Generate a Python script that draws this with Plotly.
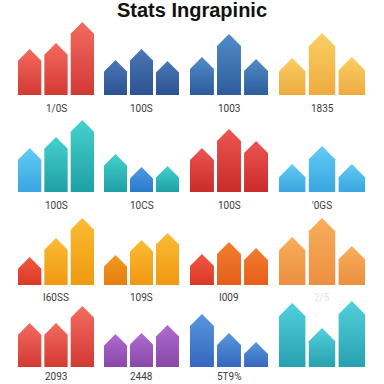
import plotly.graph_objects as go

# ---- data (bar heights, 4 rows x 4 groups x 3 bars) ----
row1_values = [[46, 52, 73], [35, 46, 34], [38, 61, 36], [37, 62, 38]]
row2_values = [[44, 55, 72], [38, 25, 26], [44, 63, 51], [28, 46, 28]]
row3_values = [[28, 47, 67], [30, 45, 52], [31, 43, 37], [48, 67, 39]]
row4_values = [[44, 44, 61], [33, 34, 42], [53, 34, 25], [64, 39, 66]]

row1_labels = ["1/0S", "100S", "1003", "1835"]
row2_labels = ["100S", "10CS", "100S", "'0GS"]
row3_labels = ["I60SS", "109S", "I009", "2/5"]
row4_labels = ["2093", "2448", "5T9%", ""]

title_text = "Stats Ingrapinic"

# ---- styles (top colour, bottom colour) ----
RED = ("#f36b5f", "#d33934")
NAVY = ("#4a77b5", "#2c5291")
BLUE = ("#528bc8", "#2d5b9b")
YEL = ("#f8cf62", "#efab40")
LBLUE = ("#62cbf3", "#3aa5df")
TEAL = ("#44d2cc", "#1f9fa5")
MBLUE = ("#4b9be3", "#2a7acb")
RED2 = ("#eb5551", "#ca2b2b")
ROR = ("#ef5842", "#db3824")
GOLD = ("#f9bc34", "#f09810")
ORG = ("#f19820", "#e67e10")
ORG2 = ("#f27d30", "#e65e18")
PEACH = ("#f7ae5a", "#ec8f40")
PURP = ("#af6bd1", "#8947a7")
SBLUE = ("#5697db", "#3666bf")
CYAN = ("#52d0dc", "#27a0b0")

colors = [
    [[RED] * 3, [NAVY] * 3, [BLUE] * 3, [YEL] * 3],
    [[LBLUE, TEAL, TEAL], [TEAL, MBLUE, TEAL], [RED2] * 3, [LBLUE] * 3],
    [[ROR, GOLD, GOLD], [ORG, GOLD, GOLD], [ROR, ORG2, ORG2], [PEACH] * 3],
    [[RED] * 3, [PURP] * 3, [SBLUE] * 3, [CYAN] * 3],
]
label_colors = [["#3a3a3a"] * 4, ["#3a3a3a"] * 4,
                ["#3a3a3a", "#3a3a3a", "#3a3a3a", "#e4e4e4"], ["#3a3a3a"] * 4]

W = H = 384
col_px = [(18, 94), (104, 179), (190, 268), (279, 365)]
base_px = [95, 192, 285, 367]
label_px = [108, 205, 297, 376.5]
YMAX = 80
BW = 0.885

values = [row1_values, row2_values, row3_values, row4_values]
labels = [row1_labels, row2_labels, row3_labels, row4_labels]

fig = go.Figure()
layout = dict()
annotations = []
n = 0
for r in range(4):
    for c in range(4):
        n += 1
        xa = "x" if n == 1 else f"x{n}"
        ya = "y" if n == 1 else f"y{n}"
        x0, x1 = col_px[c]
        xr = [-BW / 2, 2 + BW / 2]
        layout["xaxis" if n == 1 else f"xaxis{n}"] = dict(
            domain=[x0 / W, x1 / W], range=xr, visible=False, anchor=ya, fixedrange=True)
        b = base_px[r]
        layout["yaxis" if n == 1 else f"yaxis{n}"] = dict(
            domain=[(H - b) / H, (H - b + YMAX) / H], range=[0, YMAX], visible=False,
            anchor=xa, fixedrange=True)
        pxx = (x1 - x0) / (xr[1] - xr[0])
        pxy = 1.0  # YMAX units over YMAX px
        roof = (BW / 2) * pxx / pxy
        for i, v in enumerate(values[r][c]):
            top, bot = colors[r][c][i]
            xl, xr_ = i - BW / 2, i + BW / 2
            xs = [xl, xl, i, xr_, xr_, xl]
            ys = [0, v - roof, v, v - roof, 0, 0]
            fig.add_trace(go.Scatter(
                x=xs, y=ys, xaxis=xa, yaxis=ya, mode="lines", fill="toself",
                line=dict(width=0, color=top),
                fillgradient=dict(type="vertical", colorscale=[[0, bot], [1, top]]),
                hoverinfo="skip", showlegend=False))
        annotations.append(dict(
            x=(x0 + x1) / 2 / W, y=1 - label_px[r] / H, xref="paper", yref="paper",
            text=labels[r][c], showarrow=False, xanchor="center", yanchor="middle",
            font=dict(family="Roboto, Liberation Sans, sans-serif", size=10,
                      color=label_colors[r][c])))

annotations.append(dict(
    x=0.5, y=1 - 10 / H, xref="paper", yref="paper", text=f"<b>{title_text}</b>",
    showarrow=False, xanchor="center", yanchor="middle",
    font=dict(family="Liberation Sans, Arial, sans-serif", size=20, color="#111")))

fig.update_layout(
    width=W, height=H, margin=dict(l=0, r=0, t=0, b=0),
    paper_bgcolor="white", plot_bgcolor="white",
    annotations=annotations, **layout)

fig.write_html("out.html", config={"displayModeBar": False},
               post_script="document.body.style.margin='0';document.body.style.overflow='hidden';")
